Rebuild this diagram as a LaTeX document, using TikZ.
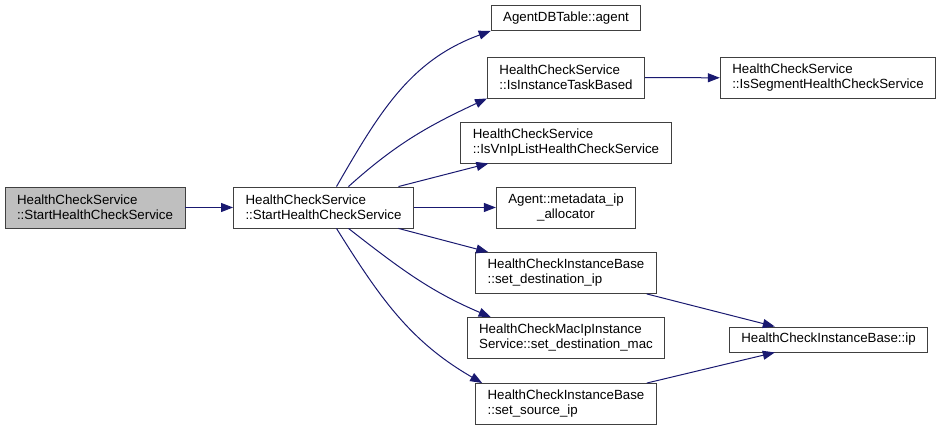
\documentclass[tikz,border=0pt]{standalone}
\usepackage{fontspec}
\setmainfont{Liberation Sans}
\usetikzlibrary{arrows.meta}
\definecolor{midnight}{HTML}{191970}
\tikzset{fn/.style={draw=black!75,line width=0.9pt,fill=white,align=left,
    inner xsep=12pt,inner ysep=3pt,minimum height=25pt,
    font=\fontsize{13.3}{15}\selectfont},
  twoline/.style={fn,minimum height=41pt},
  root/.style={twoline,fill=black!25},
  call/.style={draw=midnight,line width=1pt,-{Triangle[length=12pt,width=9pt]}}}

\begin{document}
\begin{tikzpicture}[x=1pt,y=1pt]
  \useasboundingbox (0,0) rectangle (940,430);
  \node[root] (start) at (95,222.5) {HealthCheckService\\::StartHealthCheckService};
  \node[twoline] (caller) at (323.5,222.5) {HealthCheckService\\::StartHealthCheckService};
  \node[fn] (agent) at (566,412) {AgentDBTable::agent};
  \node[twoline] (taskbased) at (566,352.5) {HealthCheckService\\::IsInstanceTaskBased};
  \node[twoline] (vniplist) at (566,287.5) {HealthCheckService\\::IsVnIpListHealthCheckService};
  \node[twoline,align=center] (metadata) at (566,222.5) {Agent::metadata\_ip\\\_allocator};
  \node[twoline] (setdest) at (566,157) {HealthCheckInstanceBase\\::set\_destination\_ip};
  \node[twoline] (setmac) at (566,92) {HealthCheckMacIpInstance\\Service::set\_destination\_mac};
  \node[twoline] (setsrc) at (566,26) {HealthCheckInstanceBase\\::set\_source\_ip};
  \node[twoline] (segment) at (828,352) {HealthCheckService\\::IsSegmentHealthCheckService};
  \node[fn] (ip) at (828.5,90.5) {HealthCheckInstanceBase::ip};

  \draw[call] (start) -- (caller);
  \draw[call] ([xshift=13pt]caller.north) to[out=60,in=200] (agent.south west);
  \draw[call] ([xshift=25pt]caller.north) to[out=42,in=205] (taskbased.south west);
  \draw[call] ([xshift=75pt]caller.north) -- ([xshift=28pt]vniplist.south west);
  \draw[call] (caller) -- (metadata);
  \draw[call] ([xshift=75pt]caller.south) -- ([xshift=13pt]setdest.north west);
  \draw[call] ([xshift=25pt]caller.south) to[out=-38,in=157] ([xshift=24pt]setmac.north west);
  \draw[call] ([xshift=13pt]caller.south) to[out=-58,in=150] ([xshift=7pt]setsrc.north west);
  \draw[call] (taskbased) -- (segment);
  \draw[call] ([xshift=-10pt]setdest.south east) -- ([xshift=46pt]ip.north west);
  \draw[call] ([xshift=-10pt]setsrc.north east) -- ([xshift=46pt]ip.south west);
\end{tikzpicture}
\end{document}
